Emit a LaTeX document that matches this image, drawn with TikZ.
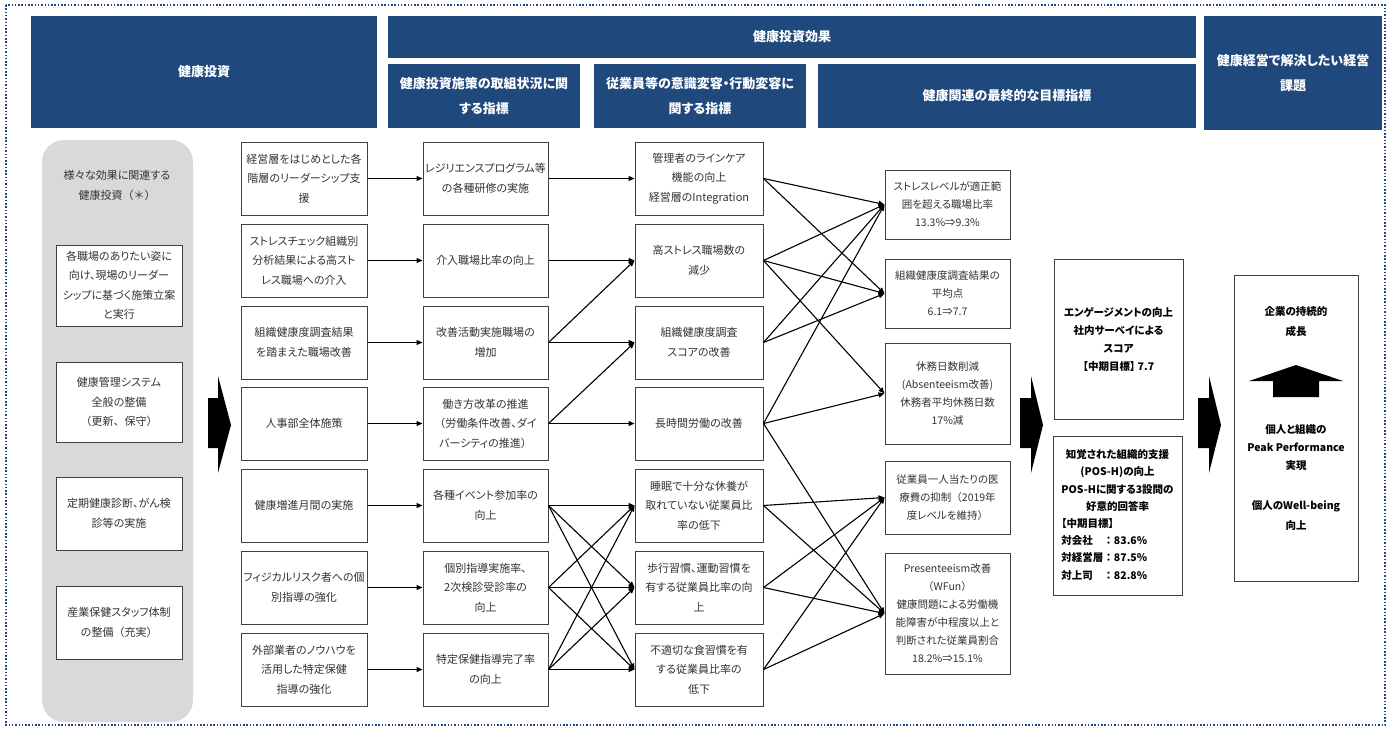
\documentclass[tikz,border=0pt]{standalone}
\usepackage{fontspec}
\setmainfont{Noto Sans CJK JP}[RawFeature=+palt]
\newfontfamily\fulljp{Noto Sans CJK JP}
\usetikzlibrary{arrows.meta,positioning}
\definecolor{kenkoblue}{RGB}{31,73,125}

\begin{document}
\begin{tikzpicture}[x=1pt, y=-1pt,
  hdr/.style={fill=kenkoblue, text=white, font=\bfseries\fontsize{13}{25}\selectfont, align=center, inner sep=0pt},
  kbox/.style={draw=black!75, line width=1pt, fill=white, text=black!80, align=center, inner sep=0pt, minimum height=73pt, font=\fontsize{11}{19.5}\selectfont},
  goal/.style={kbox, minimum width=125pt, font=\fontsize{10.5}{18}\selectfont},
  strong/.style={kbox, text=black, font=\bfseries\fontsize{10.5}{18}\selectfont},
  link/.style={line width=1.1pt, -{Triangle[length=6pt,width=5pt]}}]
  \fill[white] (0,0) rectangle (1389,729);
  \useasboundingbox (0,0) rectangle (1389,729);
  \draw[kenkoblue, line width=1.5pt, dash pattern=on 1.5pt off 1.8pt] (6,5) rectangle (1385,725);

  % headers
  \node[hdr, minimum width=346pt, minimum height=112pt] (h1) at (204,72) {健康投資};
  \node[hdr, minimum width=808pt, minimum height=42pt] (h2) at (792,37) {健康投資効果};
  \node[hdr, minimum width=192pt, minimum height=64pt] (h3) at (484,96) {健康投資施策の取組状況に関\\する指標};
  \node[hdr, minimum width=212pt, minimum height=64pt] (h4) at (700,96) {従業員等の意識変容・行動変容に\\関する指標};
  \node[hdr, minimum width=378pt, minimum height=64pt] (h5) at (1007,96) {健康関連の最終的な目標指標};
  \node[hdr, minimum width=178pt, minimum height=114pt] (h6) at (1293,73) {健康経営で解決したい経営\\課題};

  % left panel
  \fill[black!15, rounded corners=22pt] (42,140) rectangle (193,722);
  \node[text=black!80, align=center, font=\fontsize{11}{20}\selectfont] (lbl) at (117,185) {様々な効果に関連する\\{\fulljp 健康投資（＊）}};
  \node[kbox, minimum width=126pt, minimum height=81pt] (b1) at (119,285.5) {各職場のありたい姿に\\向け、現場のリーダー\\シップに基づく施策立案\\と実行};
  \node[kbox, minimum width=126pt, minimum height=80pt] (b2) at (119,402) {健康管理システム\\全般の整備\\{\fulljp（更新、保守）}};
  \node[kbox, minimum width=126pt] (b3) at (119,513.5) {定期健康診断、がん検\\診等の実施};
  \node[kbox, minimum width=126pt] (b4) at (119,622.5) {産業保健スタッフ体制\\{\fulljp の整備（充実）}};

  \fill (208,398) -- (218,398) -- (218,376) -- (231,425) -- (218,473) -- (218,448) -- (208,448) -- cycle;

  % measures
  \node[kbox, minimum width=126pt] (r1) at (304,178.5) {経営層をはじめとした各\\階層のリーダーシップ支\\援};
  \node[kbox, minimum width=126pt] (r2) at (304,260.5) {ストレスチェック組織別\\分析結果による高スト\\レス職場への介入};
  \node[kbox, minimum width=126pt] (r3) at (304,342.5) {組織健康度調査結果\\を踏まえた職場改善};
  \node[kbox, minimum width=126pt] (r4) at (304,423.5) {人事部全体施策};
  \node[kbox, minimum width=126pt] (r5) at (304,505.5) {健康増進月間の実施};
  \node[kbox, minimum width=126pt] (r6) at (304,587.5) {フィジカルリスク者への個\\別指導の強化};
  \node[kbox, minimum width=126pt] (r7) at (304,669.5) {外部業者のノウハウを\\活用した特定保健\\指導の強化};

  \node[kbox, minimum width=125pt] (k1) at (485.5,178.5) {レジリエンスプログラム等\\の各種研修の実施};
  \node[kbox, minimum width=125pt] (k2) at (485.5,260.5) {介入職場比率の向上};
  \node[kbox, minimum width=125pt] (k3) at (485.5,342.5) {改善活動実施職場の\\増加};
  \node[kbox, minimum width=125pt] (k4) at (485.5,423.5) {働き方改革の推進\\{\fulljp（}労働条件改善、ダイ\\バーシティの推進{\fulljp）}};
  \node[kbox, minimum width=125pt] (k5) at (485.5,505.5) {各種イベント参加率の\\向上};
  \node[kbox, minimum width=125pt] (k6) at (485.5,587.5) {個別指導実施率、\\2次検診受診率の\\向上};
  \node[kbox, minimum width=125pt] (k7) at (485.5,669.5) {特定保健指導完了率\\の向上};

  \node[kbox, minimum width=128pt] (m1) at (699,178.5) {管理者のラインケア\\機能の向上\\経営層のIntegration};
  \node[kbox, minimum width=128pt] (m2) at (699,260.5) {高ストレス職場数の\\減少};
  \node[kbox, minimum width=128pt] (m3) at (699,342.5) {組織健康度調査\\スコアの改善};
  \node[kbox, minimum width=128pt] (m4) at (699,423.5) {長時間労働の改善};
  \node[kbox, minimum width=128pt] (m5) at (699,505.5) {睡眠で十分な休養が\\取れていない従業員比\\率の低下};
  \node[kbox, minimum width=128pt] (m6) at (699,587.5) {歩行習慣、運動習慣を\\有する従業員比率の向\\上};
  \node[kbox, minimum width=128pt] (m7) at (699,669.5) {不適切な食習慣を有\\する従業員比率の\\低下};

  \node[goal, minimum height=69pt] (g1) at (947.5,204.5) {ストレスレベルが適正範\\囲を超える職場比率\\13.3\%⇒9.3\%};
  \node[goal, minimum height=69pt] (g2) at (947.5,293.5) {組織健康度調査結果の\\平均点\\6.1⇒7.7};
  \node[goal, minimum height=101pt] (g3) at (947.5,393.5) {休務日数削減\\(Absenteeism改善)\\休務者平均休務日数\\17\%減};
  \node[goal, minimum height=73pt] (g4) at (947.5,497.5) {従業員一人当たりの医\\療費の抑制{\fulljp（}2019年\\度レベルを維持{\fulljp）}};
  \node[goal, minimum height=121pt] (g5) at (947.5,613.5) {Presenteeism改善\\{\fulljp（}WFun{\fulljp）}\\健康問題による労働機\\能障害が中程度以上と\\判断された従業員割合\\18.2\%⇒15.1\%};

  \fill (1020,398) -- (1031,398) -- (1031,376) -- (1043,425) -- (1031,473) -- (1031,448) -- (1020,448) -- cycle;

  \node[strong, minimum width=129pt, minimum height=160pt] (eng) at (1118.5,339) {エンゲージメントの向上\\社内サーベイによる\\スコア\\【中期目標】 7.7};
  \node[strong, minimum width=129pt, minimum height=159pt, font=\bfseries\fontsize{10.5}{17.2}\selectfont] (pos) at (1117.5,515.5) {\begin{tabular}{@{}l@{}}
    \multicolumn{1}{@{}c@{}}{知覚された組織的支援}\\
    \multicolumn{1}{@{}c@{}}{(POS-H)の向上}\\
    \multicolumn{1}{@{}c@{}}{POS-Hに関する3設問の}\\
    \multicolumn{1}{@{}c@{}}{好意的回答率}\\
    【中期目標】\\
    {\fulljp 対会社　：}83.6\%\\
    {\fulljp 対経営層：}87.5\%\\
    {\fulljp 対上司　：}82.8\%
  \end{tabular}};

  \fill (1198,398) -- (1209,398) -- (1209,376) -- (1221,425) -- (1209,473) -- (1209,448) -- (1198,448) -- cycle;

  % management issues
  \node[strong, minimum width=124pt, minimum height=306pt] (kadai) at (1296,428) {};
  \node[text=black, align=center, font=\bfseries\fontsize{10.5}{20}\selectfont] (seicho) at (1296,322) {企業の持続的\\成長};
  \fill (1296,365) -- (1343,381) -- (1319,381) -- (1319,397) -- (1273,397) -- (1273,381) -- (1249,381) -- cycle;
  \node[text=black, align=center, font=\bfseries\fontsize{10.5}{18}\selectfont] (peak) at (1296,448) {個人と組織の\\Peak Performance\\実現};
  \node[text=black, align=center, font=\bfseries\fontsize{10.5}{20}\selectfont] (well) at (1296,516) {個人のWell-being\\向上};

  % connectors
  \draw[link] (r1.east) to (k1.west);
  \draw[link] (r2.east) to (k2.west);
  \draw[link] (r3.east) to (k3.west);
  \draw[link] (r4.east) to (k4.west);
  \draw[link] (r5.east) to (k5.west);
  \draw[link] (r6.east) to (k6.west);
  \draw[link] (r7.east) to (k7.west);

  \draw[link] (k1.east) to (m1.west);
  \draw[link] (k2.east) to (m2.west);
  \draw[link] (k3.east) to (m2.west);
  \draw[link] (k3.east) to (m3.west);
  \draw[link] (k4.east) to (m3.west);
  \draw[link] (k4.east) to (m4.west);
  \draw[link] (k5.east) to (m5.west);
  \draw[link] (k5.east) to (m6.west);
  \draw[link] (k5.east) to (m7.west);
  \draw[link] (k6.east) to (m5.west);
  \draw[link] (k6.east) to (m6.west);
  \draw[link] (k6.east) to (m7.west);
  \draw[link] (k7.east) to (m5.west);
  \draw[link] (k7.east) to (m6.west);
  \draw[link] (k7.east) to (m7.west);

  \draw[link] (m1.east) to (g1.west);
  \draw[link] (m1.east) to (g2.west);
  \draw[link] (m2.east) to (g1.west);
  \draw[link] (m2.east) to (g2.west);
  \draw[link] (m2.east) to (g3.west);
  \draw[link] (m3.east) to (g1.west);
  \draw[link] (m3.east) to (g2.west);
  \draw[link] (m4.east) to (g1.west);
  \draw[link] (m4.east) to (g3.west);
  \draw[link] (m4.east) to (g5.west);
  \draw[link] (m5.east) to (g4.west);
  \draw[link] (m5.east) to (g5.west);
  \draw[link] (m6.east) to (g4.west);
  \draw[link] (m6.east) to (g5.west);
  \draw[link] (m7.east) to (g4.west);
  \draw[link] (m7.east) to (g5.west);
\end{tikzpicture}
\end{document}
